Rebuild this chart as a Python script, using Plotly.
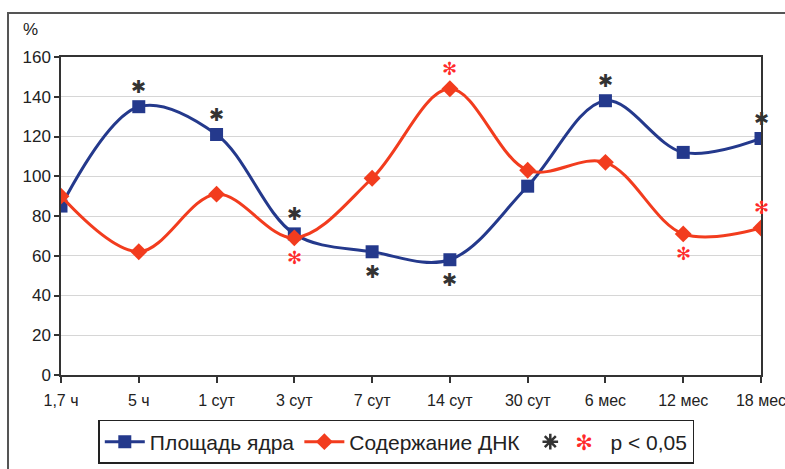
import plotly.graph_objects as go

categories = ["1,7 ч", "5 ч", "1 сут", "3 сут", "7 сут", "14 сут", "30 сут", "6 мес", "12 мес", "18 мес"]
area_values = [85, 135, 121, 71, 62, 58, 95, 138, 112, 119]
dna_values = [90, 62, 91, 69, 99, 144, 103, 107, 71, 74]
# significance marks: +1 above the point, -1 below, 0 none
area_sig = [0, 1, 1, 1, -1, -1, 0, 1, 0, 1]
dna_sig = [0, 0, 0, -1, 0, 1, 0, 0, -1, 1]

BLUE = "#24398c"
RED = "#f23c1e"
STAR_BLACK = "#333333"
STAR_RED = "#ff2a2a"
FONT = "Liberation Sans, Arial, sans-serif"

fig = go.Figure()

fig.add_trace(go.Scatter(
    x=categories, y=area_values, name="Площадь ядра",
    mode="lines+markers", line=dict(color=BLUE, width=3, shape="spline", smoothing=1.0),
    marker=dict(symbol="square", size=13, color=BLUE),
))
fig.add_trace(go.Scatter(
    x=categories, y=dna_values, name="Содержание ДНК",
    mode="lines+markers", line=dict(color=RED, width=3, shape="spline", smoothing=1.0),
    marker=dict(symbol="diamond", size=13, color=RED),
))
# dummy entry for the legend
fig.add_trace(go.Scatter(
    x=[None], y=[None], mode="markers",
    name="<span style='color:%s;font-family:DejaVu Sans'>✻</span>   p < 0,05" % STAR_RED,
    marker=dict(symbol="asterisk-open", size=13, color=STAR_BLACK,
                line=dict(color=STAR_BLACK, width=2.5)),
))

for vals, sigs, col, glyph in [(area_values, area_sig, STAR_BLACK, "✱"), (dna_values, dna_sig, STAR_RED, "✻")]:
    for cat, val, s in zip(categories, vals, sigs):
        if s:
            fig.add_annotation(x=cat, y=val, text=glyph, showarrow=False, yshift=20 * s,
                               font=dict(family="DejaVu Sans", size=18, color=col))

fig.add_annotation(xref="paper", yref="paper", x=-0.044, y=1.085, text="%", showarrow=False,
                   xanchor="center", yanchor="middle", font=dict(family=FONT, size=17, color="#222222"))

# outer frame
fig.add_shape(type="rect", xref="paper", yref="paper", x0=-0.0757, y0=-0.5, x1=1.2, y1=1.138,
              line=dict(color="#555555", width=2), layer="below")

fig.update_layout(
    width=785, height=469,
    margin=dict(l=61, r=24, t=57, b=94),
    paper_bgcolor="white", plot_bgcolor="white",
    font=dict(family=FONT, size=17, color="#222222"),
    showlegend=True,
    legend=dict(orientation="h", x=0.479, xanchor="center", yref="container", y=0.1045, yanchor="top",
                bordercolor="#222222", borderwidth=1.5, font=dict(size=21),
                itemwidth=40, tracegroupgap=0),
)
fig.update_xaxes(type="category", range=[0, 9], showgrid=False, automargin=False,
                 tickfont=dict(size=16), ticklabelstandoff=4,
                 showline=True, linecolor="#333333", linewidth=1.5, mirror=True,
                 ticks="outside", ticklen=6, tickcolor="#333333", tickwidth=1.5)
fig.update_yaxes(range=[0, 160], dtick=20, showgrid=True, gridcolor="#d6d6d6", gridwidth=1, automargin=False,
                 showline=True, linecolor="#333333", linewidth=1.5, mirror=True,
                 ticks="outside", ticklen=5, tickcolor="#333333", tickwidth=1.5, zeroline=False)

# drop the default body margin so the figure fills the window exactly
fig.write_html("out.html", config={"displayModeBar": False},
               post_script="document.body.style.margin='0';document.body.style.overflow='hidden';")
